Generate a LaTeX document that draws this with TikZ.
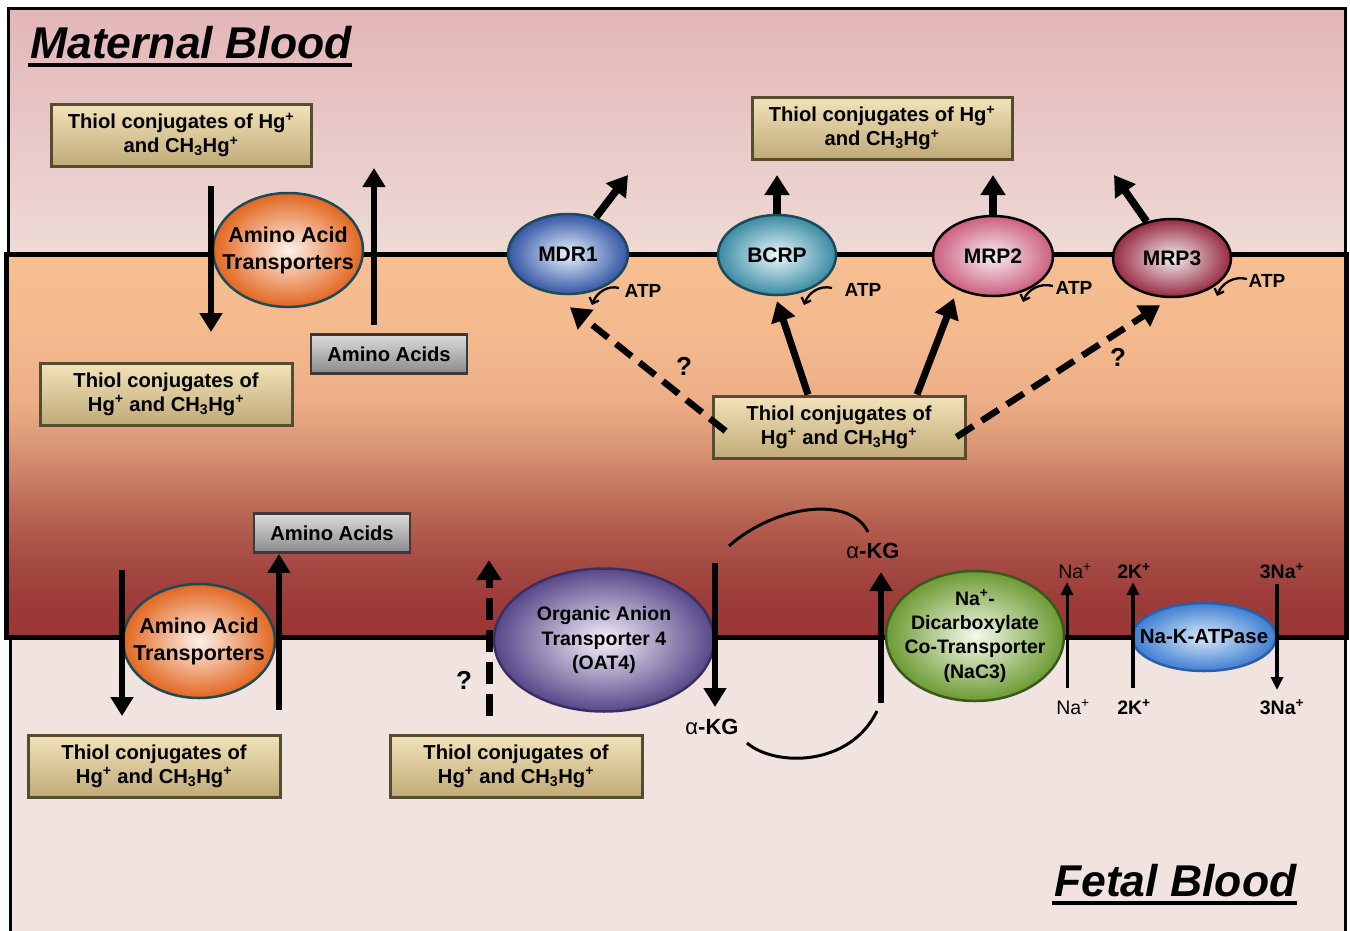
\documentclass[tikz,border=0pt]{standalone}
\usepackage{fontspec}
\setmainfont{Liberation Sans}
\usetikzlibrary{arrows.meta,shapes.geometric,calc,shadings}

\definecolor{matTop}{HTML}{E3B6B7}
\definecolor{matBot}{HTML}{EEDAD6}
\definecolor{fetalC}{HTML}{F1E3E0}
\definecolor{csA}{HTML}{9A3634}
\definecolor{csB}{HTML}{9D3C39}
\definecolor{csC}{HTML}{A54B43}
\definecolor{csD}{HTML}{B5614F}
\definecolor{csE}{HTML}{C87D63}
\definecolor{csF}{HTML}{DC9A78}
\definecolor{csG}{HTML}{ECAE87}
\definecolor{csH}{HTML}{F4BA8E}
\definecolor{csI}{HTML}{F6BE91}
\definecolor{tanTop}{HTML}{F2E3B9}
\definecolor{tanBot}{HTML}{C0AA78}
\definecolor{tanEdge}{HTML}{544D30}
\definecolor{grTop}{HTML}{DCDCDC}
\definecolor{grBot}{HTML}{8A8A8A}
\definecolor{grEdge}{HTML}{3A3A3A}
\definecolor{tealEdge}{HTML}{1D4A57}
\definecolor{oranOut}{HTML}{E2661F}
\definecolor{oranIn}{HTML}{FDF1EA}
\definecolor{mdrOut}{HTML}{3554A5}
\definecolor{mdrIn}{HTML}{E6F4FC}
\definecolor{bcrpOut}{HTML}{3A8BA3}
\definecolor{bcrpIn}{HTML}{EAF7FB}
\definecolor{mrpTwoOut}{HTML}{CC5E7E}
\definecolor{mrpTwoIn}{HTML}{F8EEF3}
\definecolor{mrpThreeOut}{HTML}{962A42}
\definecolor{mrpThreeIn}{HTML}{F3EEF1}
\definecolor{oatOut}{HTML}{574789}
\definecolor{oatIn}{HTML}{F5F1F9}
\definecolor{oatEdge}{HTML}{3B2E63}
\definecolor{nacOut}{HTML}{6C9A33}
\definecolor{nacIn}{HTML}{F6F9EA}
\definecolor{nacEdge}{HTML}{3A581C}
\definecolor{nakOut}{HTML}{3E7ED0}
\definecolor{nakIn}{HTML}{D8E9FA}
\definecolor{nakEdge}{HTML}{2A5EA7}

\pgfdeclareverticalshading{cellgrad}{100bp}{color(0bp)=(csA); color(25bp)=(csA); color(30bp)=(csB); color(35bp)=(csC); color(40.3bp)=(csD); color(45.5bp)=(csE); color(50.7bp)=(csF); color(55.9bp)=(csG); color(65bp)=(csH); color(75bp)=(csI); color(100bp)=(csI)}

\newcommand\hgplus{Hg\textsuperscript{+}}
\newcommand\mehg{CH\textsubscript{3}Hg\textsuperscript{+}}

\begin{document}
\begin{tikzpicture}[x=1pt,y=-1pt,
  tbox/.style={draw=tanEdge, line width=3pt, top color=tanTop, bottom color=tanBot,
    minimum width=252pt, minimum height=62pt, align=center, inner sep=0pt,
    font=\bfseries\fontsize{20.2}{24}\selectfont},
  gbox/.style={draw=grEdge, line width=2.8pt, top color=grTop, bottom color=grBot,
    minimum width=156pt, minimum height=39pt, inner sep=0pt,
    font=\bfseries\fontsize{20.2}{24}\selectfont},
  tp/.style={ellipse, line width=2.5pt, inner sep=0pt},
  lab/.style={align=center, inner sep=0pt, font=\bfseries\fontsize{21}{24.5}\selectfont},
  bigar/.style={line width=6pt, -{Triangle[length=19pt,width=22pt]}},
  upar/.style={line width=7.5pt, -{Triangle[length=20pt,width=24pt]}},
  dashar/.style={line width=6.5pt, dash pattern=on 20pt off 10pt, -{Triangle[length=20pt,width=24pt]}},
  thinar/.style={line width=3pt, -{Triangle[length=13pt,width=12pt]}},
  atpar/.style={line width=2.3pt, -{Straight Barb[length=5pt,width=10pt]}},
  small/.style={inner sep=0pt, font=\fontsize{19.5}{22}\selectfont},
  q/.style={inner sep=0pt, font=\bfseries\fontsize{26}{28}\selectfont},
  arcline/.style={line width=3pt}
]
\useasboundingbox (0,0) rectangle (1350,930);

% ---------- regions ----------
\shade[top color=matTop, bottom color=matBot] (8,8) rectangle (1345,254);
\draw[line width=3pt] (8,254) -- (8,8) -- (1345,8) -- (1345,254);
\fill[fetalC] (10,637) rectangle (1345,935);
\draw[line width=3pt] (10,935) -- (10,637) (1345,637) -- (1345,935);
\shade[shading=cellgrad] (6,254) rectangle (1346,637);
\draw[line width=5pt] (6,254) rectangle (1346,637);

% ---------- titles ----------
\node[anchor=base west, inner sep=0pt, font=\fontsize{44.5}{50}\bfseries\itshape] (mb) at (30,58) {Maternal Blood};
\draw[line width=4pt] ($(mb.base west)+(-2,7)$) -- ($(mb.base east)+(0,7)$);
\node[anchor=base west, inner sep=0pt, font=\fontsize{44.5}{50}\bfseries\itshape] (fb) at (1054,896) {Fetal Blood};
\draw[line width=4pt] ($(fb.base west)+(-2,7)$) -- ($(fb.base east)+(0,7)$);

% ---------- boxes ----------
\node[tbox, minimum width=260pt] (tl) at (181,135) {Thiol conjugates of \hgplus\\and \mehg};
\node[tbox, minimum width=260pt] (tr) at (882,128) {Thiol conjugates of \hgplus\\and \mehg};
\node[tbox] (cl) at (166,394) {Thiol conjugates of\\\hgplus{} and \mehg};
\node[tbox] (cc) at (839,427) {Thiol conjugates of\\\hgplus{} and \mehg};
\node[tbox] (bl) at (154,766) {Thiol conjugates of\\\hgplus{} and \mehg};
\node[tbox] (bm) at (516,766) {Thiol conjugates of\\\hgplus{} and \mehg};
\node[gbox] (aa1) at (389,354) {Amino Acids};
\node[gbox] (aa2) at (332,533) {Amino Acids};

% ---------- transporters ----------
\node[tp, draw=tealEdge, inner color=oranIn, outer color=oranOut, minimum width=150pt, minimum height=114pt,
  label={[lab, font=\bfseries\fontsize{21.5}{27}\selectfont]center:Amino Acid\\Transporters}] (aat1) at (288,250) {};
\node[tp, draw=tealEdge, inner color=oranIn, outer color=oranOut, minimum width=152pt, minimum height=114pt,
  label={[lab, font=\bfseries\fontsize{21.5}{27}\selectfont]center:Amino Acid\\Transporters}] (aat2) at (199,641) {};
\node[tp, draw=tealEdge, inner color=mdrIn, outer color=mdrOut, minimum width=120pt, minimum height=80pt,
  label={[lab]center:MDR1}] (mdr1) at (568,254) {};
\node[tp, draw=tealEdge, inner color=bcrpIn, outer color=bcrpOut, minimum width=118pt, minimum height=80pt,
  label={[lab]center:BCRP}] (bcrp) at (777,255) {};
\node[tp, draw=black, inner color=mrpTwoIn, outer color=mrpTwoOut, minimum width=120pt, minimum height=80pt,
  label={[lab]center:MRP2}] (mrp2) at (993,256) {};
\node[tp, draw=black, inner color=mrpThreeIn, outer color=mrpThreeOut, minimum width=118pt, minimum height=78pt,
  label={[lab]center:MRP3}] (mrp3) at (1172,258) {};
\node[tp, draw=oatEdge, inner color=oatIn, outer color=oatOut, minimum width=220pt, minimum height=143pt,
  label={[lab, font=\bfseries\fontsize{19.5}{24.5}\selectfont]center:Organic Anion\\Transporter 4\\(OAT4)}] (oat4) at (604,640) {};
\node[tp, draw=nacEdge, inner color=nacIn, outer color=nacOut, minimum width=178pt, minimum height=130pt,
  label={[lab, font=\bfseries\fontsize{19.5}{24.3}\selectfont]center:Na\textsuperscript{+}-\\Dicarboxylate\\Co-Transporter\\(NaC3)}] (nac3) at (975,636) {};
\node[tp, draw=nakEdge, inner color=nakIn, outer color=nakOut, minimum width=144pt, minimum height=68pt,
  label={[lab, font=\bfseries\fontsize{20.5}{24}\selectfont]center:Na-K-ATPase}] (nak) at (1204,637) {};

% ---------- amino acid arrows (top) ----------
\coordinate (a1s) at (211,186);
\coordinate (a1e) at (211,332);
\coordinate (a2s) at (374,325);
\coordinate (a2e) at (374,168);
\draw[bigar] (a1s) -- (a1e);
\draw[bigar] (a2s) -- (a2e);

% ---------- efflux arrows ----------
\coordinate (mdrUp) at (628,175);
\coordinate (bcrpUp) at (777,175);
\coordinate (mrp2Up) at (993,175);
\coordinate (mrp3Up) at (1114,175);
\draw[upar] (mdr1) -- (mdrUp);
\draw[upar] (bcrp.north) -- (bcrpUp);
\draw[upar] (mrp2.north) -- (mrp2Up);
\draw[upar] (mrp3) -- (mrp3Up);

% ---------- ATP ----------
\node[lab, font=\bfseries\fontsize{19}{22}\selectfont] (atp1) at (643,291) {ATP};
\node[lab, font=\bfseries\fontsize{19}{22}\selectfont] (atp2) at (863,290) {ATP};
\node[lab, font=\bfseries\fontsize{19}{22}\selectfont] (atp3) at (1074,288) {ATP};
\node[lab, font=\bfseries\fontsize{19}{22}\selectfont] (atp4) at (1267,281) {ATP};
\coordinate (t1s) at (619,288); \coordinate (t1e) at (592,305);
\coordinate (t2s) at (832,288); \coordinate (t2e) at (804,305);
\coordinate (t3s) at (1053,286); \coordinate (t3e) at (1023,302);
\coordinate (t4s) at (1247,279); \coordinate (t4e) at (1217,296);
\draw[atpar] (t1s) to[out=165,in=70] (t1e);
\draw[atpar] (t2s) to[out=165,in=70] (t2e);
\draw[atpar] (t3s) to[out=165,in=70] (t3e);
\draw[atpar] (t4s) to[out=165,in=70] (t4e);

% ---------- arrows from central box ----------
\draw[dashar] ($(cc.west)+(14,4)$) -- ($(mdr1.south)+(2,12)$);
\draw[upar, line width=7pt] ($(cc.north)+(-31,0)$) -- ($(bcrp.south)+(0,5)$);
\draw[upar, line width=7pt] ($(cc.north)+(78,0)$) -- ($(mrp2.south)+(-39,1)$);
\draw[dashar] ($(cc.east)+(-10,10)$) -- ($(mrp3.south)+(-12,7)$);
\node[q] (q1) at (684,366) {?};
\node[q] (q2) at (1118,357) {?};

% ---------- amino acid arrows (bottom) ----------
\coordinate (b1s) at (122,570);
\coordinate (b1e) at (122,716);
\coordinate (b2s) at (279,710);
\draw[bigar] (b1s) -- (b1e);
\draw[bigar] (b2s) -- (aa2.south -| b2s);

% ---------- OAT4 ----------
\coordinate (o1s) at (489,716);
\coordinate (o1e) at (489,560);
\draw[dashar, line width=7pt, dash pattern=on 22pt off 10pt] (o1s) -- (o1e);
\node[q] (q3) at (464,680) {?};
\coordinate (k1s) at (715,563);
\coordinate (k1e) at (715,707);
\draw[bigar] (k1s) -- (k1e);
\node[lab, font=\bfseries\fontsize{22}{24}\selectfont] (akg1) at (712,727) {{\mdseries α}-KG};
\coordinate (k2s) at (881,703);
\coordinate (k2e) at (881,572);
\draw[bigar] (k2s) -- (k2e);
\node[lab, font=\bfseries\fontsize{22}{24}\selectfont] (akg2) at (873,551) {{\mdseries α}-KG};
\coordinate (arcT1) at (729,546);
\coordinate (arcT2) at (868,532);
\draw[arcline] (arcT1) .. controls (775,505) and (850,495) .. (arcT2);
\coordinate (arcB1) at (747,743);
\coordinate (arcB2) at (877,711);
\draw[arcline] (arcB1) .. controls (775,767) and (850,767) .. (arcB2);

% ---------- Na / K ----------
\node[small] (na1) at (1075,571) {Na\textsuperscript{+}};
\node[small] (na2) at (1073,707) {Na\textsuperscript{+}};
\node[small, font=\bfseries\fontsize{19.5}{22}\selectfont] (kk1) at (1134,571) {2K\textsuperscript{+}};
\node[small, font=\bfseries\fontsize{19.5}{22}\selectfont] (kk2) at (1134,707) {2K\textsuperscript{+}};
\node[small, font=\bfseries\fontsize{19.5}{22}\selectfont] (nn1) at (1282,571) {3Na\textsuperscript{+}};
\node[small, font=\bfseries\fontsize{19.5}{22}\selectfont] (nn2) at (1282,707) {3Na\textsuperscript{+}};
\coordinate (n1s) at (1067,688); \coordinate (n1e) at (1067,582);
\coordinate (n2s) at (1133,688); \coordinate (n2e) at (1133,582);
\coordinate (n3s) at (1277,584); \coordinate (n3e) at (1277,690);
\draw[thinar] (n1s) -- (n1e);
\draw[thinar, line width=4.5pt] (n2s) -- (n2e);
\draw[thinar, line width=3.5pt] (n3s) -- (n3e);
\end{tikzpicture}
\end{document}
